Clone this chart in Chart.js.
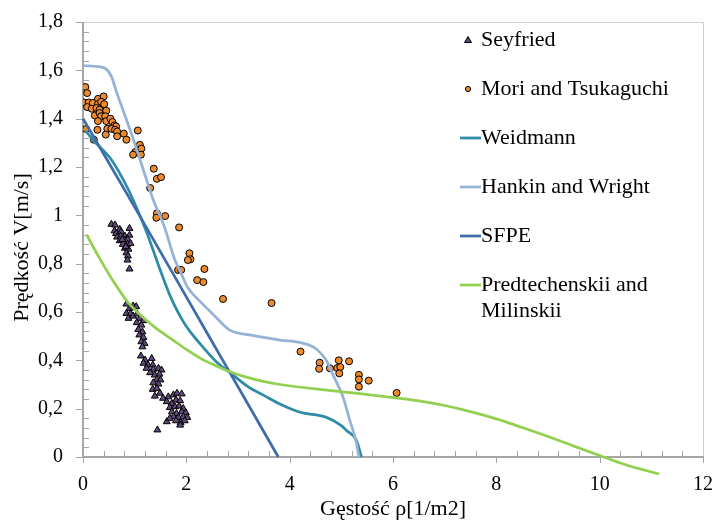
<!DOCTYPE html>
<html lang="pl">
<head>
<meta charset="utf-8">
<title>Prędkość a gęstość</title>
<script src="https://cdn.jsdelivr.net/npm/chart.js@4.4.1/dist/chart.umd.min.js"></script>
<style>
  html, body { margin: 0; padding: 0; background: #fff; }
  #wrap { width: 715px; height: 525px; }
</style>
</head>
<body>
<div id="wrap"><canvas id="chart" width="715" height="525"></canvas></div>
<script>
// ============================================================
// DANE
// ============================================================
const xTicks = [0, 2, 4, 6, 8, 10, 12];
const yTicks = [0, 0.2, 0.4, 0.6, 0.8, 1, 1.2, 1.4, 1.6, 1.8];

const xTitle = 'Gęstość ρ[1/m2]';
const yTitle = 'Prędkość V[m/s]';
const seriesNames = ['Seyfried', 'Mori and Tsukaguchi', 'Weidmann', 'Hankin and Wright', 'SFPE', 'Predtechenskii and\nMilinskii'];

// pomiary Seyfried [gęstość, prędkość]
const seyfried = [
  [0.55,0.963],[0.62,0.96],[0.71,0.942],[0.61,0.936],[0.64,0.925],[0.74,0.932],[0.90,0.946],
  [0.66,0.91],[0.73,0.914],[0.81,0.914],[0.90,0.918],[0.71,0.895],[0.81,0.898],[0.87,0.90],
  [0.77,0.88],[0.86,0.88],[0.92,0.884],[0.81,0.864],[0.88,0.86],[0.84,0.845],[0.87,0.832],
  [0.86,0.815],[0.90,0.778],[0.76,0.90],[0.83,0.87],
  [0.84,0.633],[0.90,0.615],[0.97,0.625],[1.03,0.622],[0.84,0.594],[0.92,0.594],[0.88,0.574],
  [0.97,0.583],[1.05,0.592],[1.10,0.574],[1.17,0.564],[1.04,0.556],[1.13,0.546],[1.07,0.528],
  [1.15,0.518],[1.09,0.505],[1.17,0.495],[1.13,0.477],[1.19,0.47],[1.15,0.456],[1.12,0.418],
  [1.20,0.401],[1.33,0.408],[1.17,0.388],[1.26,0.381],[1.35,0.381],[1.23,0.367],[1.36,0.363],
  [1.46,0.367],[1.52,0.36],[1.30,0.349],[1.39,0.339],[1.48,0.343],[1.43,0.321],[1.50,0.319],
  [1.36,0.307],[1.46,0.302],[1.35,0.28],[1.43,0.284],[1.49,0.264],[1.39,0.252],[1.55,0.243],
  [1.65,0.249],[1.75,0.257],[1.82,0.264],[1.91,0.261],[1.62,0.229],[1.72,0.222],[1.80,0.236],
  [1.88,0.233],[1.68,0.205],[1.78,0.208],[1.86,0.211],[1.94,0.201],[1.72,0.187],[1.81,0.18],
  [1.91,0.187],[1.99,0.183],[1.75,0.167],[1.85,0.164],[1.94,0.167],[2.02,0.164],[1.80,0.15],
  [1.89,0.142],[1.97,0.15],[1.62,0.146],[1.68,0.16],[1.88,0.132],[1.44,0.112]
];

// pomiary Mori and Tsukaguchi
const mori = [
  [0.045,1.531],[0.08,1.506],[0.02,1.467],[0.11,1.467],[0.08,1.448],[0.19,1.465],[0.17,1.441],
  [0.29,1.482],[0.29,1.46],[0.40,1.492],[0.35,1.47],[0.41,1.46],[0.26,1.444],[0.32,1.437],
  [0.45,1.433],[0.23,1.413],[0.32,1.423],[0.35,1.41],[0.29,1.39],[0.43,1.41],[0.45,1.39],
  [0.53,1.40],[0.57,1.386],[0.61,1.372],[0.64,1.368],[0.47,1.358],[0.55,1.358],[0.06,1.357],
  [0.28,1.354],[0.62,1.354],[0.66,1.347],[0.44,1.334],[0.66,1.327],[0.79,1.338],[0.84,1.313],
  [0.21,1.313],[1.06,1.351],[1.10,1.292],[1.13,1.276],[1.12,1.251],[1.01,1.262],[0.97,1.251],
  [1.37,1.193],[1.43,1.151],[1.51,1.158],[1.30,1.113],[1.43,1.008],[1.42,0.99],[1.59,0.997],
  [1.86,0.95],[2.06,0.843],[2.08,0.818],[2.03,0.815],[1.84,0.774],[1.90,0.774],[2.35,0.778],
  [2.21,0.732],[2.33,0.724],[2.71,0.654],[3.65,0.637],[4.21,0.436],[4.58,0.39],[4.57,0.365],
  [4.78,0.367],[4.95,0.40],[4.92,0.368],[4.98,0.372],[4.96,0.346],[5.15,0.396],[5.34,0.34],
  [5.34,0.321],[5.34,0.291],[5.53,0.316],[6.07,0.265]
];

// krzywe modelowe
const weidmann = [
  [0.05,1.35],[0.2,1.31],[0.55,1.23],[0.87,1.11],[1.06,1.02],[1.25,0.92],[1.45,0.80],[1.68,0.67],
  [1.97,0.55],[2.26,0.47],[2.6,0.39],[2.84,0.35],[3.2,0.29],[3.5,0.255],[3.8,0.22],[4.2,0.185],
  [4.7,0.165],[5.0,0.13],[5.1,0.11],[5.29,0.07],[5.39,0.0]
];

const hankin = [
  [0,1.62],[0.3,1.615],[0.45,1.605],[0.55,1.575],[0.65,1.51],[0.8,1.42],[0.95,1.33],[1.15,1.20],
  [1.35,1.07],[1.58,0.95],[1.77,0.82],[1.9,0.76],[2.03,0.70],[2.26,0.645],[2.52,0.59],[2.84,0.525],
  [3.23,0.505],[3.81,0.484],[4.2,0.474],[4.45,0.456],[4.6,0.43],[4.71,0.40],[4.84,0.34],[4.95,0.29],
  [5.03,0.25],[5.16,0.155],[5.29,0.06],[5.34,0.0]
];

const sfpe = [[0,1.40],[0.93,1.06],[1.9,0.70],[2.84,0.35],[3.78,0.0]];

const predtechenskii = [
  [0.07,0.92],[0.3,0.83],[0.55,0.74],[0.87,0.64],[1.1,0.59],[1.4,0.535],[1.7,0.49],[2.0,0.445],
  [2.3,0.405],[2.6,0.375],[2.84,0.353],[3.3,0.322],[3.75,0.302],[4.5,0.282],[5.36,0.262],[6.0,0.246],
  [6.5,0.232],[7.0,0.213],[7.5,0.188],[8.0,0.158],[8.5,0.122],[9.0,0.085],[9.5,0.045],[10.0,0.006],
  [10.5,-0.032],[11.15,-0.07]
];

// ============================================================
// WYGLĄD
// ============================================================
const FONT = 'Liberation Serif';
const colors = ['#604A7B', '#EE8A2E', '#2F8CA8', '#95B3D7', '#3E6DAA', '#92D050'];

const pts = arr => arr.map(p => ({ x: p[0], y: p[1] }));

function markerSet(i, data, style, radius) {
  return {
    label: seriesNames[i].replace('\n', ' '),
    data: pts(data),
    pointStyle: style,
    pointRadius: radius,
    backgroundColor: colors[i],
    borderColor: '#000',
    borderWidth: 1,
    order: 6 - i,
  };
}

function lineSet(i, data) {
  return {
    label: seriesNames[i].replace('\n', ' '),
    data: pts(data),
    showLine: true,
    pointRadius: 0,
    borderColor: colors[i],
    borderWidth: 2.75,
    cubicInterpolationMode: 'monotone',
    clip: false,
    order: 6 - i,
  };
}

// ramka, osie i podziałki (główne na zewnątrz, pomocnicze do środka)
const framePlugin = {
  id: 'frame',
  beforeDatasetsDraw(chart) {
    const { ctx, chartArea: a, scales: { x, y } } = chart;
    ctx.save();
    ctx.lineWidth = 1;
    ctx.strokeStyle = '#D0D0D0';
    ctx.beginPath();
    ctx.moveTo(a.left, a.top + 0.5);
    ctx.lineTo(a.right + 0.5, a.top + 0.5);
    ctx.lineTo(a.right + 0.5, a.bottom);
    ctx.stroke();

    ctx.strokeStyle = '#A6A6A6';
    ctx.lineWidth = 2;
    ctx.beginPath();
    ctx.moveTo(a.left, a.top); ctx.lineTo(a.left, a.bottom);
    ctx.moveTo(a.left, a.bottom); ctx.lineTo(a.right + 1, a.bottom);
    ctx.stroke();

    ctx.lineWidth = 1;
    ctx.beginPath();
    for (let k = 0; k <= 45; k++) {
      const py = Math.round(y.getPixelForValue(k * 0.04)) + 0.5;
      if (k % 5 === 0) { ctx.moveTo(a.left - 7, py); ctx.lineTo(a.left, py); }
      else { ctx.moveTo(a.left, py); ctx.lineTo(a.left + 6, py); }
    }
    for (let k = 0; k <= 30; k++) {
      const px = Math.round(x.getPixelForValue(k * 0.4)) + 0.5;
      if (k % 5 === 0) { ctx.moveTo(px, a.bottom); ctx.lineTo(px, a.bottom + 6); }
      else { ctx.moveTo(px, a.bottom - 6); ctx.lineTo(px, a.bottom); }
    }
    ctx.stroke();

    // tytuł osi Y (nieco poniżej środka osi, jak w oryginale)
    ctx.font = '22px "' + FONT + '"';
    ctx.fillStyle = '#000';
    ctx.textAlign = 'center';
    ctx.textBaseline = 'middle';
    ctx.translate(22, (a.top + a.bottom) / 2 + 8);
    ctx.rotate(-Math.PI / 2);
    ctx.fillText(yTitle, 0, 0);
    ctx.restore();
  }
};

// legenda wewnątrz obszaru wykresu
const legendPlugin = {
  id: 'sideLegend',
  afterDraw(chart) {
    const { ctx } = chart;
    const markX = 468, textX = 481, top = 40, gap = 49, lineH = 26;
    ctx.save();
    ctx.font = '22px "' + FONT + '"';
    ctx.fillStyle = '#000';
    ctx.textBaseline = 'middle';
    ctx.textAlign = 'left';
    seriesNames.forEach((name, i) => {
      const cy = top + i * gap;
      if (i === 0) {
        ctx.beginPath();
        ctx.moveTo(markX, cy - 3.5);
        ctx.lineTo(markX + 3.5, cy + 2.5);
        ctx.lineTo(markX - 3.5, cy + 2.5);
        ctx.closePath();
        ctx.fillStyle = colors[0]; ctx.fill();
        ctx.strokeStyle = '#000'; ctx.lineWidth = 1; ctx.stroke();
      } else if (i === 1) {
        ctx.beginPath();
        ctx.arc(markX, cy, 2.6, 0, Math.PI * 2);
        ctx.fillStyle = colors[1]; ctx.fill();
        ctx.strokeStyle = '#000'; ctx.lineWidth = 1; ctx.stroke();
      } else {
        ctx.beginPath();
        ctx.moveTo(markX - 8, cy); ctx.lineTo(textX, cy);
        ctx.strokeStyle = colors[i]; ctx.lineWidth = 2.75; ctx.stroke();
      }
      ctx.fillStyle = '#000';
      name.split('\n').forEach((t, j) => ctx.fillText(t, textX, cy + j * lineH));
    });
    ctx.restore();
  }
};

const tickFont = { family: FONT, size: 20 };
const titleFont = { family: FONT, size: 22 };

new Chart(document.getElementById('chart'), {
  type: 'scatter',
  data: {
    datasets: [
      markerSet(0, seyfried, 'triangle', 4),
      markerSet(1, mori, 'circle', 3.5),
      lineSet(2, weidmann),
      lineSet(3, hankin),
      lineSet(4, sfpe),
      lineSet(5, predtechenskii),
    ]
  },
  options: {
    responsive: false,
    animation: false,
    layout: { padding: { top: 22, right: 12, left: 0, bottom: 0 } },
    scales: {
      x: {
        type: 'linear', min: xTicks[0], max: xTicks[xTicks.length - 1],
        // stała wysokość osi, bez dodatkowego marginesu od etykiet
        afterFit: s => { s.height = 68; s.paddingLeft = 0; s.paddingRight = 0; },
        afterBuildTicks: s => { s.ticks = xTicks.map(v => ({ value: v })); },
        grid: { display: false, drawTicks: false },
        border: { display: false },
        ticks: { font: tickFont, color: '#000', padding: 16, maxRotation: 0 },
        title: { display: true, text: xTitle, font: titleFont, color: '#000', padding: { top: 0, bottom: 3 } }
      },
      y: {
        type: 'linear', min: yTicks[0], max: yTicks[yTicks.length - 1],
        afterFit: s => { s.width = 83; s.paddingTop = 0; s.paddingBottom = 0; },
        afterBuildTicks: s => { s.ticks = yTicks.map(v => ({ value: v })); },
        grid: { display: false, drawTicks: false },
        border: { display: false },
        ticks: {
          font: tickFont, color: '#000', padding: 20,
          callback: v => String(+v.toFixed(1)).replace('.', ',')
        },
        title: { display: false }
      }
    },
    plugins: {
      legend: { display: false },
      tooltip: { enabled: false }
    }
  },
  plugins: [framePlugin, legendPlugin]
});
</script>
</body>
</html>
